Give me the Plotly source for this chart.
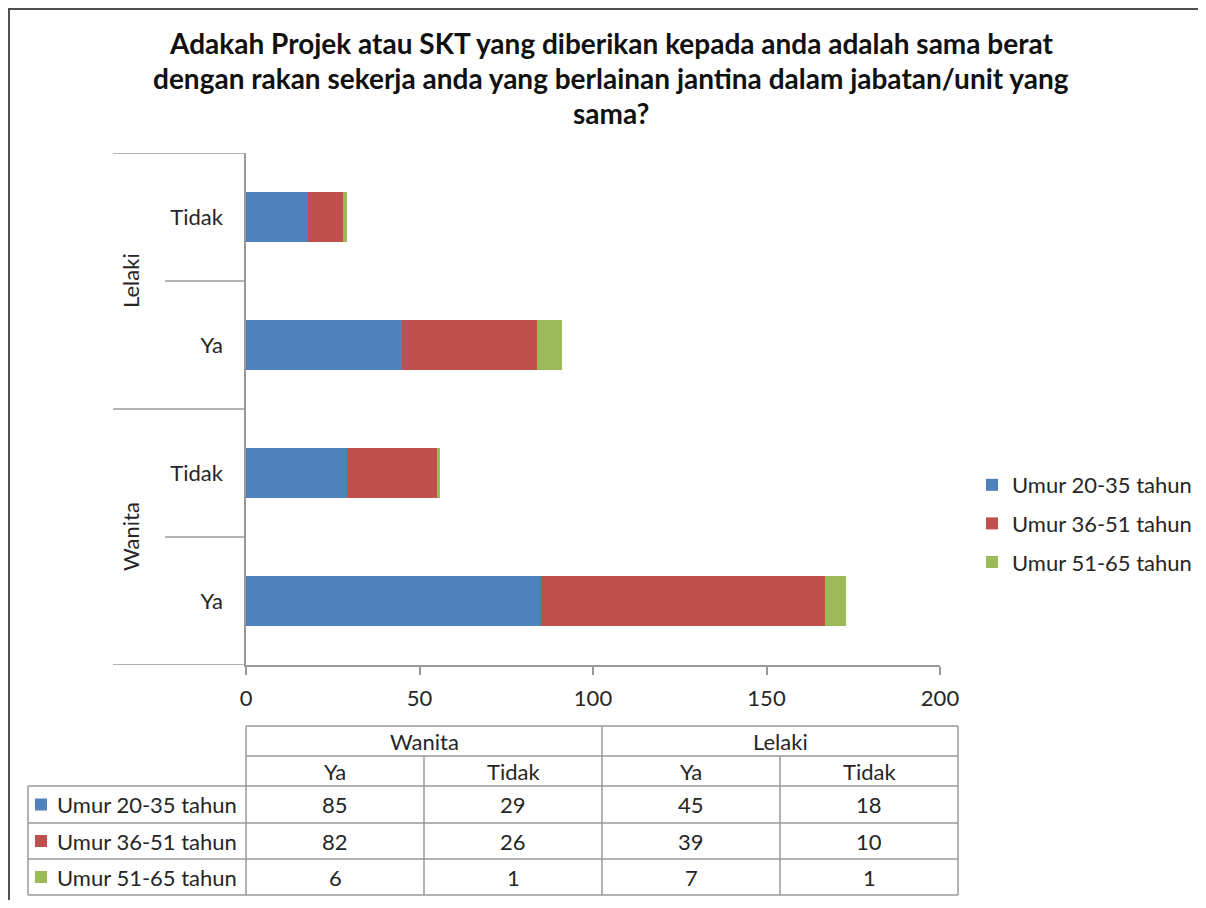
import plotly.graph_objects as go

# ---- data ----
groups = ["Wanita", "Wanita", "Lelaki", "Lelaki"]
answers = ["Ya", "Tidak", "Ya", "Tidak"]
series_names = ["Umur 20-35 tahun", "Umur 36-51 tahun", "Umur 51-65 tahun"]
umur_20_35 = [85, 29, 45, 18]
umur_36_51 = [82, 26, 39, 10]
umur_51_65 = [6, 1, 7, 1]
series_values = [umur_20_35, umur_36_51, umur_51_65]
colors = ["#4F81BD", "#C0504D", "#9BBB59"]
x_ticks = [0, 50, 100, 150, 200]
title_lines = [
    "Adakah Projek atau SKT yang diberikan kepada anda adalah sama berat",
    "dengan rakan sekerja anda yang berlainan jantina dalam jabatan/unit yang",
    "sama?",
]

# page is 1206x908; the figure sits inside an 8px body margin
OFF = 8
W, H = 1206 - 2 * OFF, 908 - 2 * OFF
FONT = "Lato"
TXT = "#262626"
GRID = "#9a9a9a"
FS = 22


def px(x):
    return (x - OFF) / W


def py(y):
    return 1 - (y - OFF) / H


cat_ids = [f"{g}|{a}" for g, a in zip(groups, answers)]

fig = go.Figure()
for name, vals, col in zip(series_names, series_values, colors):
    fig.add_trace(go.Bar(
        y=cat_ids, x=vals, name=name, orientation="h",
        marker=dict(color=col, line=dict(width=0)),
        width=0.39, legendgroup=name,
    ))

shapes = []
annotations = []

# frame
shapes.append(dict(type="line", xref="paper", yref="paper", x0=px(8), x1=px(1206), y0=py(9), y1=py(9),
                   line=dict(color="#505050", width=2)))
shapes.append(dict(type="line", xref="paper", yref="paper", x0=px(9), x1=px(9), y0=py(8), y1=py(908),
                   line=dict(color="#505050", width=2)))

# category separators on y axis
for yv, xs in [(3.5, 113), (2.5, 165), (1.5, 113), (0.5, 165), (-0.5, 113)]:
    shapes.append(dict(type="line", xref="paper", yref="y", x0=px(xs), x1=px(246), y0=yv, y1=yv,
                       line=dict(color=GRID, width=1.5)))

# group labels (rotated)
for gname, yc in [("Lelaki", 2.5), ("Wanita", 0.5)]:
    annotations.append(dict(text=gname, xref="paper", yref="y", x=px(130), y=yc, showarrow=False,
                            textangle=-90, font=dict(family=FONT, size=FS, color=TXT),
                            xanchor="center", yanchor="middle"))

# title
for i, line in enumerate(title_lines):
    annotations.append(dict(text=f"<b>{line}</b>", xref="paper", yref="paper", x=px(611), y=py(43 + 35 * i),
                            showarrow=False, xanchor="center", yanchor="middle",
                            font=dict(family=FONT, size=28, color="#111111")))

# data table
col_x = [28, 246, 424, 602, 780, 958]
row_y = [726, 756, 786, 823, 859, 895]
tline = dict(color=GRID, width=1.5)


def hline(y, x0, x1):
    shapes.append(dict(type="line", xref="paper", yref="paper", x0=px(x0), x1=px(x1), y0=py(y), y1=py(y), line=tline))


def vline(x, y0, y1):
    shapes.append(dict(type="line", xref="paper", yref="paper", x0=px(x), x1=px(x), y0=py(y0), y1=py(y1), line=tline))


hline(row_y[0], col_x[1], col_x[5])
hline(row_y[1], col_x[1], col_x[5])
for r in row_y[2:]:
    hline(r, col_x[0], col_x[5])
vline(col_x[0], row_y[2], row_y[5])
vline(col_x[1], row_y[0], row_y[5])
vline(col_x[2], row_y[1], row_y[5])
vline(col_x[3], row_y[0], row_y[5])
vline(col_x[4], row_y[1], row_y[5])
vline(col_x[5], row_y[0], row_y[5])

tfont = dict(family=FONT, size=FS, color=TXT)
seen = []
for g in groups:
    if g in seen:
        continue
    seen.append(g)
    span = [i for i, gg in enumerate(groups) if gg == g]
    xc = (col_x[1 + span[0]] + col_x[2 + span[-1]]) / 2
    annotations.append(dict(text=g, xref="paper", yref="paper", x=px(xc), y=py((row_y[0] + row_y[1]) / 2),
                            showarrow=False, xanchor="center", yanchor="middle", font=tfont))
for ci, a in enumerate(answers):
    xc = (col_x[1 + ci] + col_x[2 + ci]) / 2
    annotations.append(dict(text=a, xref="paper", yref="paper", x=px(xc), y=py((row_y[1] + row_y[2]) / 2),
                            showarrow=False, xanchor="center", yanchor="middle", font=tfont))
for ri, (name, vals, col) in enumerate(zip(series_names, series_values, colors)):
    yc = (row_y[2 + ri] + row_y[3 + ri]) / 2
    shapes.append(dict(type="rect", xref="paper", yref="paper", x0=px(35), x1=px(47), y0=py(yc - 6), y1=py(yc + 6),
                       fillcolor=col, line=dict(width=0)))
    annotations.append(dict(text=name, xref="paper", yref="paper", x=px(55), y=py(yc),
                            showarrow=False, xanchor="left", yanchor="middle", font=tfont))
    for ci, v in enumerate(vals):
        xc = (col_x[1 + ci] + col_x[2 + ci]) / 2
        annotations.append(dict(text=str(v), xref="paper", yref="paper", x=px(xc), y=py(yc),
                                showarrow=False, xanchor="center", yanchor="middle", font=tfont))

fig.update_layout(
    width=W, height=H,
    margin=dict(l=0, r=0, t=0, b=0),
    paper_bgcolor="white", plot_bgcolor="white",
    barmode="stack",
    font=dict(family=FONT, size=FS, color=TXT),
    xaxis=dict(domain=[px(246), px(940)], range=[0, 200], tickvals=x_ticks,
               showgrid=False, zeroline=False, showline=True, linecolor=GRID, linewidth=1.5,
               ticks="outside", ticklen=8, tickcolor=GRID, tickwidth=1.5, automargin=False,
               ticklabelstandoff=5,
               tickfont=dict(family=FONT, size=FS, color=TXT), anchor="y"),
    yaxis=dict(domain=[py(665), py(153)], type="category", categoryorder="array", categoryarray=cat_ids,
               range=[-0.5, 3.5], tickvals=cat_ids, ticktext=answers, automargin=False,
               showgrid=False, zeroline=False, showline=True, linecolor=GRID, linewidth=1.5,
               ticks="", ticklabelstandoff=17,
               tickfont=dict(family=FONT, size=FS, color=TXT), anchor="x"),
    showlegend=True,
    legend=dict(x=px(972), y=py(464), xanchor="left", yanchor="top", traceorder="grouped",
                tracegroupgap=7, font=dict(family=FONT, size=FS, color=TXT), bgcolor="rgba(0,0,0,0)"),
    shapes=shapes, annotations=annotations,
)

fig.write_html("out.html")
